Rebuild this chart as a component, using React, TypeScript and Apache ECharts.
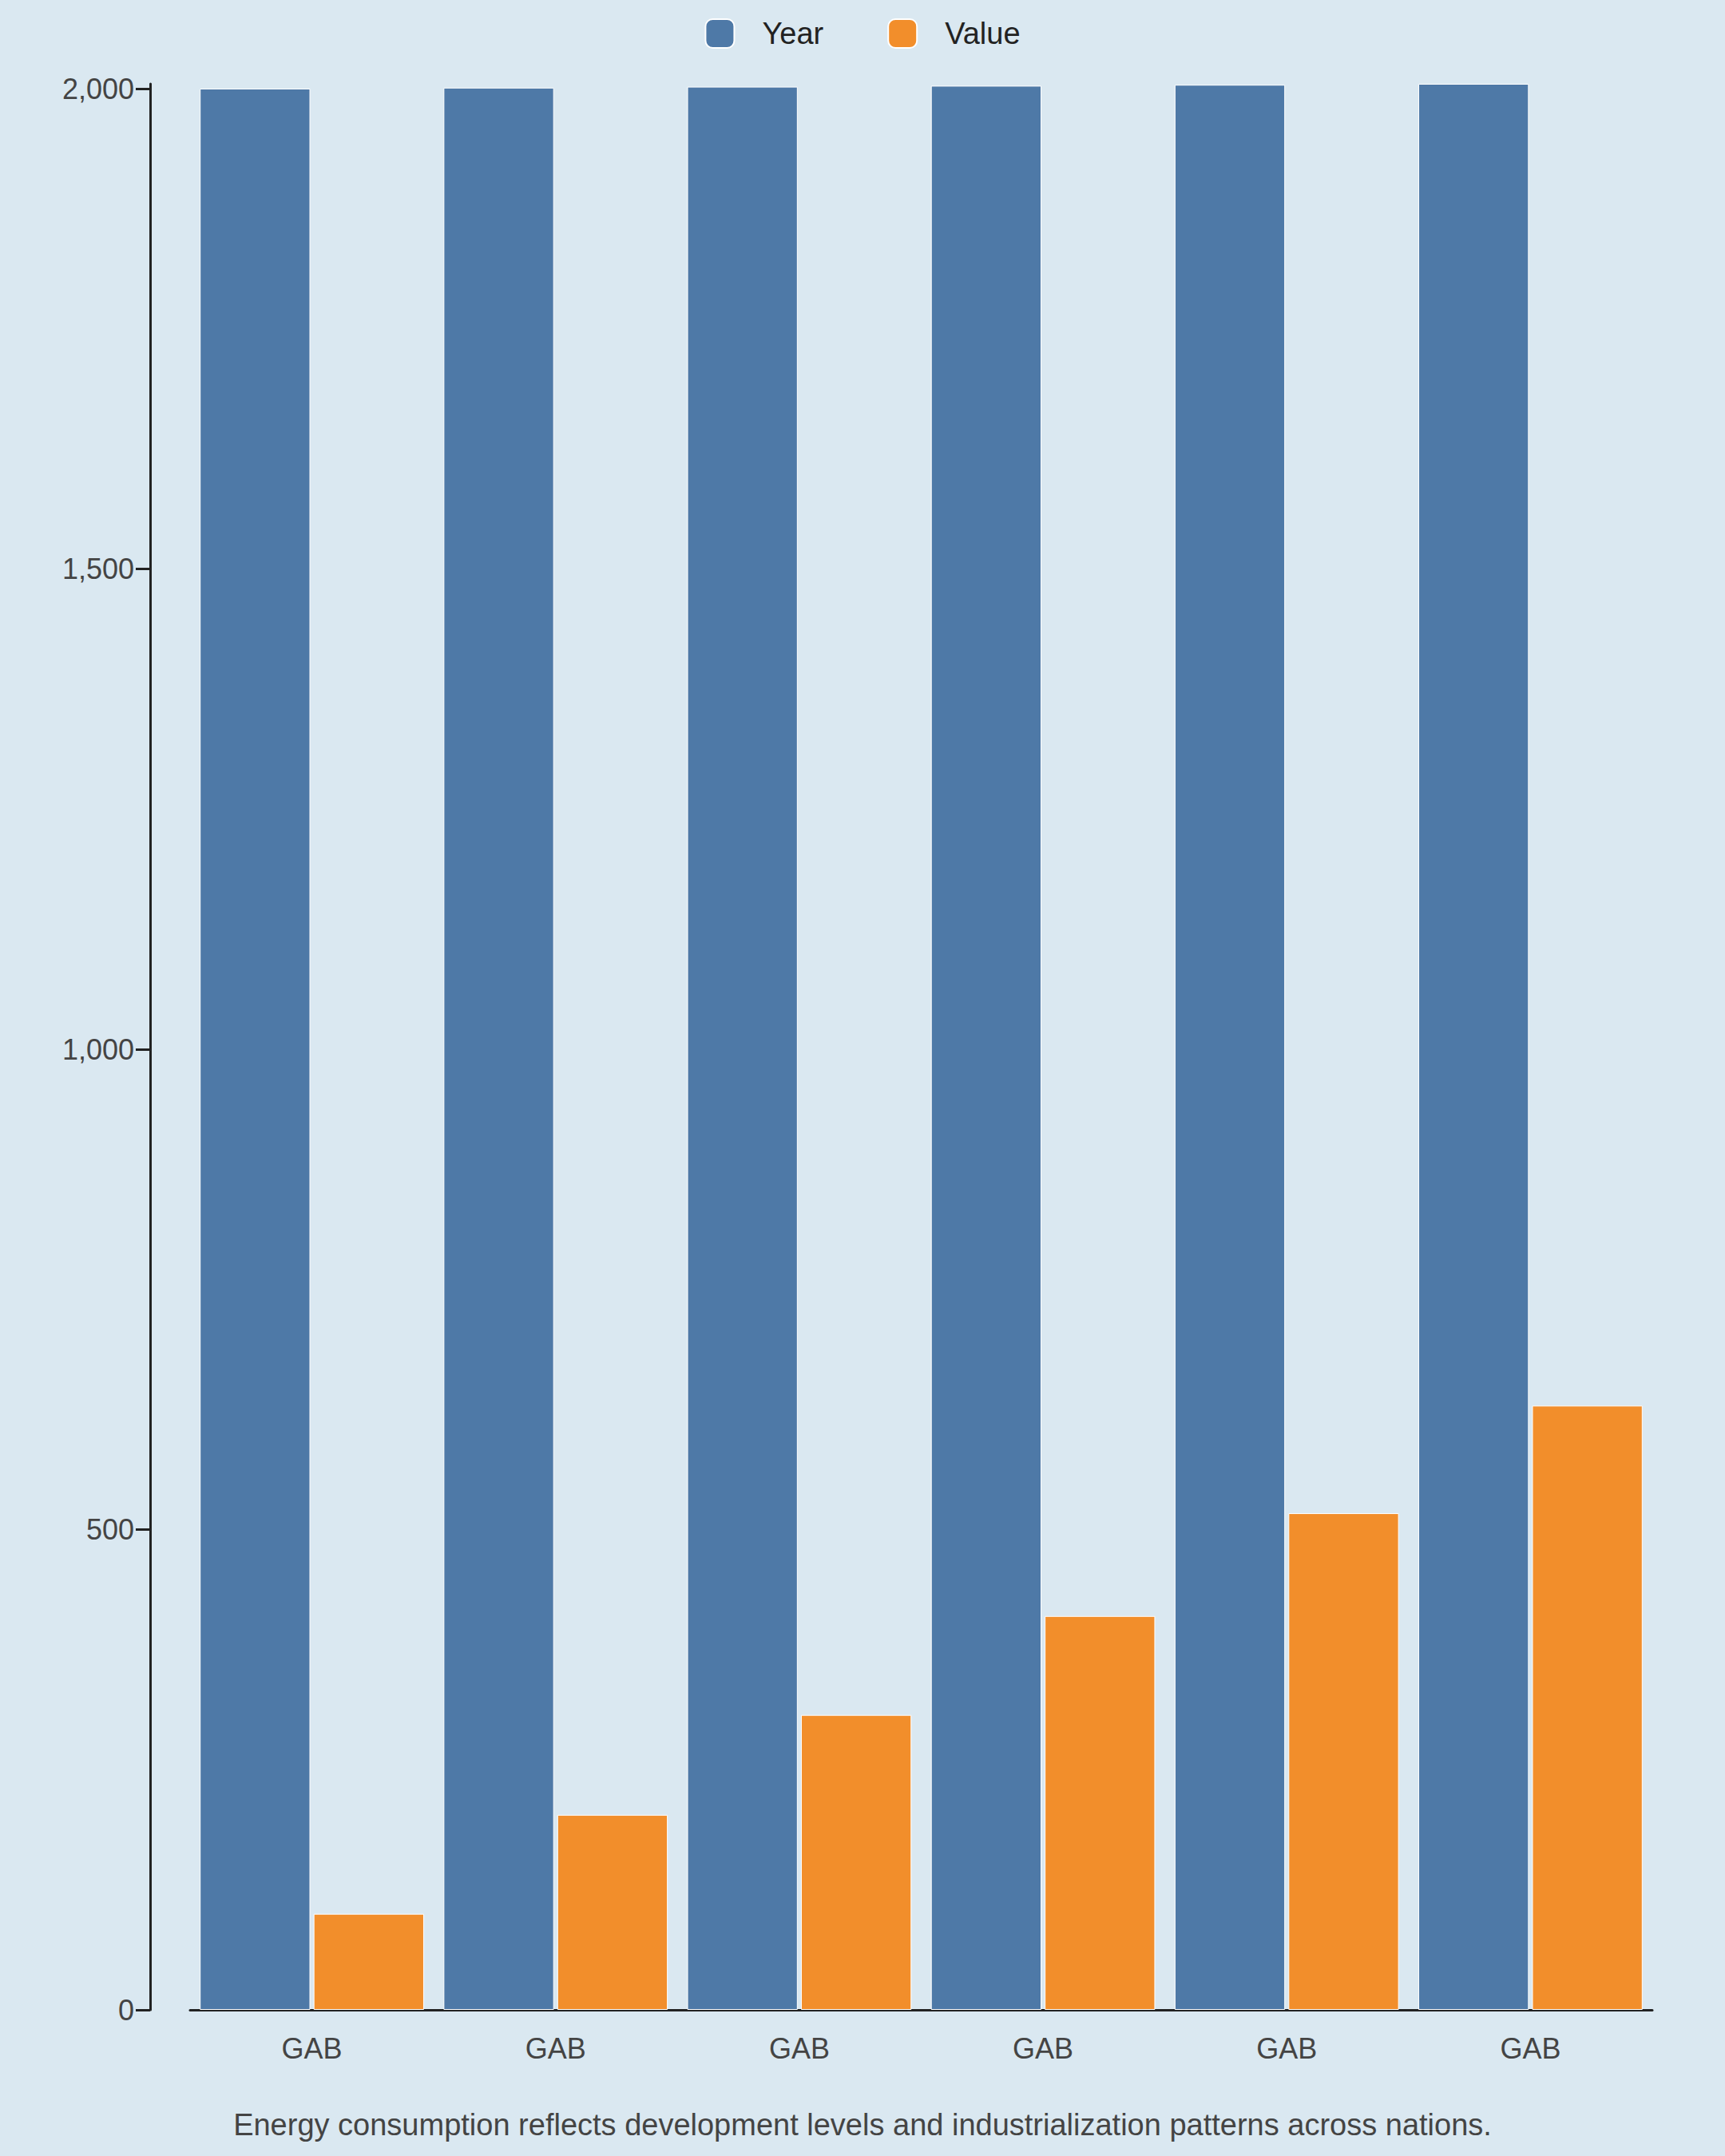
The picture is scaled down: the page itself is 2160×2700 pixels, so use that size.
import { useEffect, useRef } from 'react';
import * as echarts from 'echarts';

const categories = ['GAB', 'GAB', 'GAB', 'GAB', 'GAB', 'GAB'];
const yearValues = [2000, 2001, 2002, 2003, 2004, 2005];
const valueValues = [100, 203, 307, 410, 517, 629];
const caption = 'Energy consumption reflects development levels and industrialization patterns across nations.';

export default function App() {
    const chartRef = useRef<HTMLDivElement>(null);

    useEffect(() => {
        document.body.style.margin = '0';
        if (!chartRef.current) return;
        const chart = echarts.init(chartRef.current, undefined, { renderer: 'svg' });
        const font = 'Liberation Sans, Arial, sans-serif';
        chart.setOption({
            animation: false,
            backgroundColor: '#dae8f1',
            textStyle: { fontFamily: font },
            legend: {
                top: 18,
                left: 'center',
                itemWidth: 36,
                itemHeight: 36,
                itemGap: 80,
                icon: 'roundRect',
                textStyle: { fontSize: 38, color: '#222', padding: [0, 0, 0, 30] },
                data: ['Year', 'Value']
            },
            grid: { left: 238, right: 91, top: 105, bottom: 183 },
            xAxis: {
                type: 'category',
                data: categories,
                axisLine: { lineStyle: { color: '#222', width: 3 } },
                axisTick: { length: 18, lineStyle: { color: '#222', width: 3 } },
                axisLabel: { fontSize: 36, color: '#444', margin: 30 }
            },
            yAxis: {
                type: 'value',
                min: 0,
                max: 2005,
                interval: 500,
                offset: 50,
                splitLine: { show: false },
                axisLine: { show: true, lineStyle: { color: '#222', width: 3 } },
                axisTick: { show: true, length: 18, lineStyle: { color: '#222', width: 3 } },
                axisLabel: { fontSize: 36, color: '#444', margin: 20, showMaxLabel: false }
            },
            series: [
                {
                    name: 'Year', type: 'bar', data: yearValues,
                    barGap: '3%', barCategoryGap: '8%',
                    itemStyle: { color: '#4e79a7', borderColor: '#ffffff', borderWidth: 1 }
                },
                {
                    name: 'Value', type: 'bar', data: valueValues,
                    itemStyle: { color: '#f28e2b', borderColor: '#ffffff', borderWidth: 1 }
                }
            ],
            graphic: [
                {
                    type: 'text', left: 'center', top: 2642,
                    style: { text: caption, fontSize: 38, fill: '#444', fontFamily: font }
                }
            ]
        });
        return () => chart.dispose();
    }, []);

    return <div ref={chartRef} style={{ width: 2160, height: 2700 }} />;
}
